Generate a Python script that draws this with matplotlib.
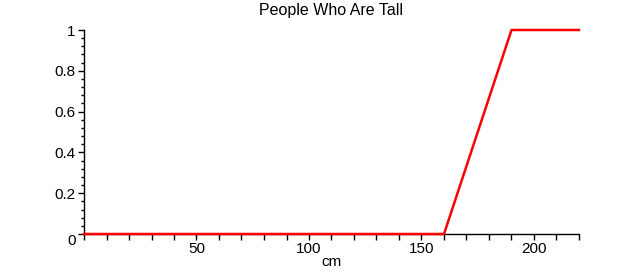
import matplotlib
matplotlib.use("Agg")
import matplotlib.pyplot as plt
from matplotlib.ticker import MultipleLocator

# membership function for "tall"
height_cm = [0, 160, 190, 220]
membership = [0, 0, 1, 1]

x_ticks = [50, 100, 150, 200]
y_ticks = [0, 0.2, 0.4, 0.6, 0.8, 1]
y_labels = ["0", "0.2", "0.4", "0.6", "0.8", "1"]

plt.rcParams['font.family'] = ['Liberation Sans', 'DejaVu Sans']

fig = plt.figure(figsize=(6.35, 2.72), dpi=100)
ax = fig.add_axes([84/635, 1 - 234/272, (579-84)/635, (234-30)/272])

ax.plot(height_cm, membership, color="red", lw=1.8, clip_on=False, zorder=3)

ax.set_xlim(0, 220)
ax.set_ylim(0, 1)
ax.spines['top'].set_visible(False)
ax.spines['right'].set_visible(False)
ax.spines['left'].set_linewidth(1)
ax.spines['bottom'].set_linewidth(1)

ax.set_xticks(x_ticks)
ax.xaxis.set_minor_locator(MultipleLocator(10))
ax.set_yticks(y_ticks)
ax.set_yticklabels(y_labels)
ax.yaxis.set_minor_locator(MultipleLocator(0.04))

ax.tick_params(axis='x', which='major', direction='out', length=4, width=1, labelsize=11, pad=2)
ax.tick_params(axis='x', which='minor', direction='out', length=4, width=1)
ax.tick_params(axis='y', which='major', direction='out', length=4, width=1, labelsize=11, pad=2)
ax.tick_params(axis='y', which='minor', direction='out', length=2, width=1)

# the "0" label sits just below the x axis, as in the original
ax.get_yticklabels()[0].set_verticalalignment('top')

ax.set_title("People Who Are Tall", fontsize=11.5, pad=11)
ax.set_xlabel("cm", fontsize=11, labelpad=-1)

fig.savefig("out.png", dpi=100)
